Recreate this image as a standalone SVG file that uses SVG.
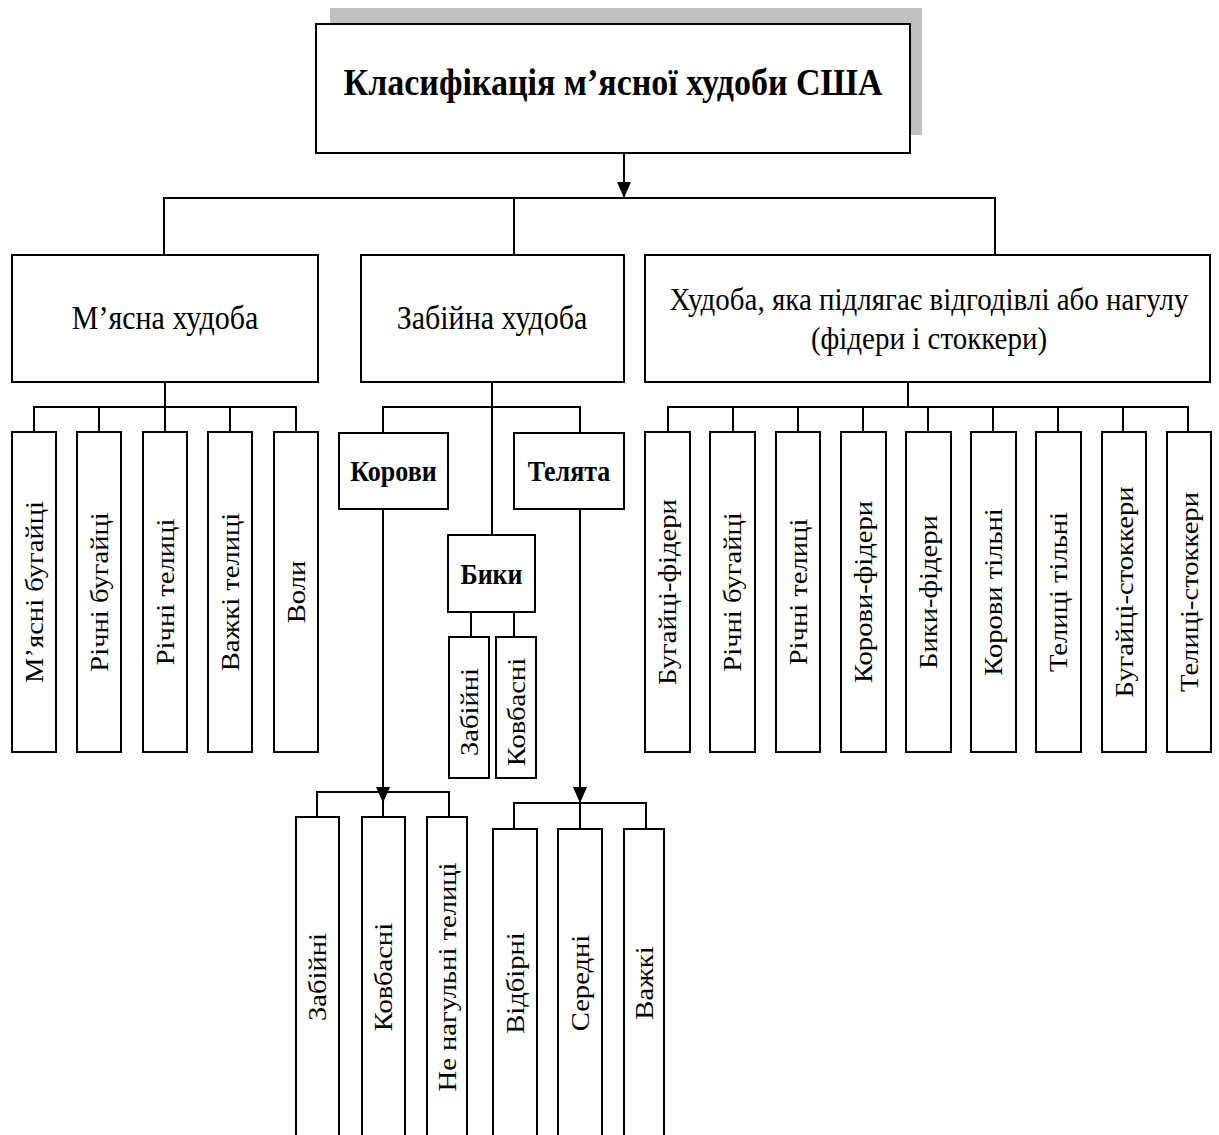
<svg xmlns="http://www.w3.org/2000/svg" width="1219" height="1135" viewBox="0 0 1219 1135">
<style>
  .box { fill: #ffffff; stroke: #000000; stroke-width: 2; }
  .shadow { fill: #c0c0c0; stroke: none; }
  .ln { fill: none; stroke: #000000; stroke-width: 2; }
  .t { font-family: "Liberation Serif", "Times New Roman", serif; fill: #000000; text-anchor: middle; }
  .title { font-size: 34px; font-weight: bold; }
  .main { font-size: 30px; }
  .main2 { font-size: 29px; }
  .bold { font-size: 26px; font-weight: bold; }
  .v { font-size: 26px; }
</style>
<defs>
  <marker id="arr" markerUnits="userSpaceOnUse" viewBox="0 0 16 14" refX="16" refY="7" markerWidth="16" markerHeight="14" orient="auto">
    <path d="M0,0 L16,7 L0,14 Z" fill="#000000"/>
  </marker>
</defs>

<g id="connectors">
  <line class="ln" x1="624" y1="153" x2="624" y2="198" marker-end="url(#arr)"/>
  <polyline class="ln" points="164,255 164,198 995,198 995,255"/>
  <line class="ln" x1="514" y1="198" x2="514" y2="255"/>
  <line class="ln" x1="165" y1="382" x2="165" y2="407"/>
  <polyline class="ln" points="34,432 34,407 296,407 296,432"/>
  <line class="ln" x1="99" y1="407" x2="99" y2="432"/>
  <line class="ln" x1="165" y1="407" x2="165" y2="432"/>
  <line class="ln" x1="230" y1="407" x2="230" y2="432"/>
  <line class="ln" x1="492" y1="382" x2="492" y2="535"/>
  <polyline class="ln" points="383,433 383,407 580,407 580,433"/>
  <line class="ln" x1="471" y1="612" x2="471" y2="637"/>
  <line class="ln" x1="514" y1="612" x2="514" y2="637"/>
  <line class="ln" x1="383" y1="509" x2="383" y2="803" marker-end="url(#arr)"/>
  <polyline class="ln" points="317,817 317,792 449,792 449,817"/>
  <line class="ln" x1="383" y1="792" x2="383" y2="817"/>
  <line class="ln" x1="580" y1="509" x2="580" y2="803" marker-end="url(#arr)"/>
  <polyline class="ln" points="514,829 514,803 646,803 646,829"/>
  <line class="ln" x1="580" y1="803" x2="580" y2="829"/>
  <line class="ln" x1="908" y1="382" x2="908" y2="407"/>
  <polyline class="ln" points="668,432 668,407 1188,407 1188,432"/>
  <line class="ln" x1="733" y1="407" x2="733" y2="432"/>
  <line class="ln" x1="798" y1="407" x2="798" y2="432"/>
  <line class="ln" x1="863" y1="407" x2="863" y2="432"/>
  <line class="ln" x1="928" y1="407" x2="928" y2="432"/>
  <line class="ln" x1="993" y1="407" x2="993" y2="432"/>
  <line class="ln" x1="1058" y1="407" x2="1058" y2="432"/>
  <line class="ln" x1="1123" y1="407" x2="1123" y2="432"/>
</g>

<g id="title">
  <rect class="shadow" x="330" y="8" width="592" height="127"/>
  <rect class="box" x="316" y="24" width="594" height="129"/>
  <text class="t title" transform="translate(613,95) scale(1,1.12)">Класифікація м’ясної худоби США</text>
</g>

<g id="miasna">
  <rect class="box" x="12" y="255" width="306" height="127"/>
  <text class="t main" transform="translate(165,329) scale(1,1.12)">М’ясна худоба</text>
</g>
<g id="zabiina">
  <rect class="box" x="361" y="255" width="263" height="127"/>
  <text class="t main" transform="translate(492,329) scale(1,1.12)">Забійна худоба</text>
</g>
<g id="vidgodivlia">
  <rect class="box" x="645" y="255" width="565" height="127"/>
  <text class="t main2" transform="translate(929,310) scale(1,1.12)">Худоба, яка підлягає відгодівлі або нагулу</text>
  <text class="t main2" transform="translate(929,349) scale(1,1.12)">(фідери і стоккери)</text>
</g>

<g id="m1"><rect class="box" x="12" y="432" width="44" height="320"/><text class="t v" transform="translate(42.5,592) scale(1,1.1) rotate(-90)">М’ясні бугайці</text></g>
<g id="m2"><rect class="box" x="77" y="432" width="44" height="320"/><text class="t v" transform="translate(107.5,592) scale(1,1.1) rotate(-90)">Річні бугайці</text></g>
<g id="m3"><rect class="box" x="143" y="432" width="44" height="320"/><text class="t v" transform="translate(173.5,592) scale(1,1.1) rotate(-90)">Річні телиці</text></g>
<g id="m4"><rect class="box" x="208" y="432" width="44" height="320"/><text class="t v" transform="translate(238.5,592) scale(1,1.1) rotate(-90)">Важкі телиці</text></g>
<g id="m5"><rect class="box" x="274" y="432" width="44" height="320"/><text class="t v" transform="translate(304.5,592) scale(1,1.1) rotate(-90)">Воли</text></g>

<g id="korovy"><rect class="box" x="339" y="433" width="109" height="76"/><text class="t bold" transform="translate(393.5,481) scale(1,1.12)">Корови</text></g>
<g id="teliata"><rect class="box" x="514" y="433" width="110" height="76"/><text class="t bold" transform="translate(569,481) scale(1,1.12)">Телята</text></g>
<g id="byky"><rect class="box" x="448" y="535" width="87" height="77"/><text class="t bold" transform="translate(491.5,584) scale(1,1.12)">Бики</text></g>
<g id="b1"><rect class="box" x="449" y="637" width="40" height="141"/><text class="t v" transform="translate(477.5,712) scale(1,1.1) rotate(-90)">Забійні</text></g>
<g id="b2"><rect class="box" x="496" y="637" width="40" height="141"/><text class="t v" transform="translate(524.5,712) scale(1,1.1) rotate(-90)">Ковбасні</text></g>

<g id="k1"><rect class="box" x="296" y="817" width="43" height="330"/><text class="t v" transform="translate(326,977) scale(1,1.1) rotate(-90)">Забійні</text></g>
<g id="k2"><rect class="box" x="362" y="817" width="43" height="330"/><text class="t v" transform="translate(392,977) scale(1,1.1) rotate(-90)">Ковбасні</text></g>
<g id="k3"><rect class="box" x="427" y="817" width="40" height="330"/><text class="t v" transform="translate(455.5,977) scale(1,1.1) rotate(-90)">Не нагульні телиці</text></g>

<g id="t1"><rect class="box" x="493" y="829" width="44" height="330"/><text class="t v" transform="translate(523.5,983) scale(1,1.1) rotate(-90)">Відбірні</text></g>
<g id="t2"><rect class="box" x="558" y="829" width="44" height="330"/><text class="t v" transform="translate(588.5,983) scale(1,1.1) rotate(-90)">Середні</text></g>
<g id="t3"><rect class="box" x="624" y="829" width="40" height="330"/><text class="t v" transform="translate(652.5,983) scale(1,1.1) rotate(-90)">Важкі</text></g>

<g id="f1"><rect class="box" x="645" y="432" width="45" height="320"/><text class="t v" transform="translate(676,592) scale(1,1.1) rotate(-90)">Бугайці-фідери</text></g>
<g id="f2"><rect class="box" x="710" y="432" width="45" height="320"/><text class="t v" transform="translate(741,592) scale(1,1.1) rotate(-90)">Річні бугайці</text></g>
<g id="f3"><rect class="box" x="776" y="432" width="44" height="320"/><text class="t v" transform="translate(806.5,592) scale(1,1.1) rotate(-90)">Річні телиці</text></g>
<g id="f4"><rect class="box" x="841" y="432" width="45" height="320"/><text class="t v" transform="translate(872,592) scale(1,1.1) rotate(-90)">Корови-фідери</text></g>
<g id="f5"><rect class="box" x="906" y="432" width="45" height="320"/><text class="t v" transform="translate(937,592) scale(1,1.1) rotate(-90)">Бики-фідери</text></g>
<g id="f6"><rect class="box" x="971" y="432" width="45" height="320"/><text class="t v" transform="translate(1002,592) scale(1,1.1) rotate(-90)">Корови тільні</text></g>
<g id="f7"><rect class="box" x="1036" y="432" width="45" height="320"/><text class="t v" transform="translate(1067,592) scale(1,1.1) rotate(-90)">Телиці тільні</text></g>
<g id="f8"><rect class="box" x="1102" y="432" width="44" height="320"/><text class="t v" transform="translate(1132.5,592) scale(1,1.1) rotate(-90)">Бугайці-стоккери</text></g>
<g id="f9"><rect class="box" x="1167" y="432" width="44" height="320"/><text class="t v" transform="translate(1197.5,592) scale(1,1.1) rotate(-90)">Телиці-стоккери</text></g>
</svg>
